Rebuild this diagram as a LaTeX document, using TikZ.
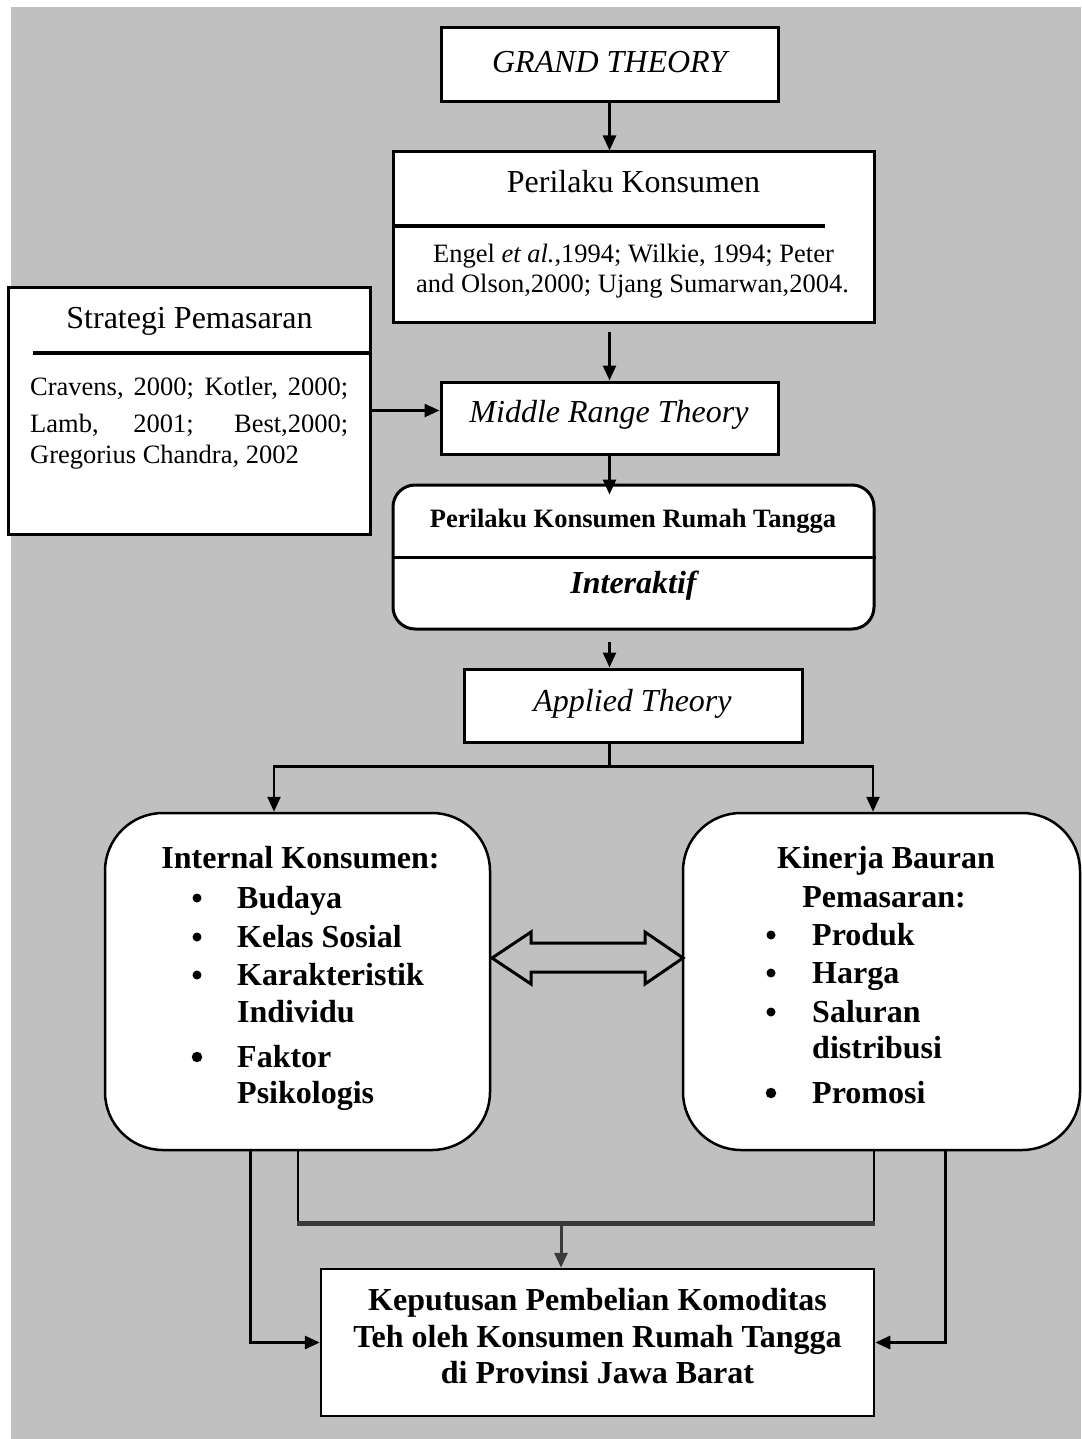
\documentclass[tikz,border=0pt]{standalone}
\usepackage{fontspec}
\setmainfont{Liberation Serif}
\usetikzlibrary{arrows.meta,calc}
\definecolor{bggray}{HTML}{C0C0C0}
\definecolor{bardark}{HTML}{3A3A3A}

\begin{document}
\begin{tikzpicture}[x=1pt,y=-1pt,
  box/.style={draw,line width=3pt,fill=white,inner sep=0pt},
  rbox/.style={box,line width=2.5pt,rounded corners=58pt},
  txt/.style={inner sep=0pt,anchor=base},
  ltxt/.style={inner sep=0pt,anchor=base west},
  big/.style={font=\fontsize{32}{38}\selectfont},
  small/.style={font=\fontsize{26.5}{30}\selectfont},
  bul/.style={inner sep=0pt,anchor=center,circle,fill=black,minimum size=#1},
  bul/.default=9pt,
  conn/.style={line width=2.5pt},
  arr/.style={conn,-{Triangle[length=15pt,width=13pt]}},
  divider/.style={line width=4pt},
]
\useasboundingbox (0,0) rectangle (1081,1439);
\fill[bggray] (11,7) rectangle (1081,1439);

% ---- boxes ----
\node[box,minimum width=337pt,minimum height=74pt] (grand) at (609.5,65) {};
\node[box,minimum width=481pt,minimum height=170pt] (pk) at (633.5,237) {};
\node[box,minimum width=362pt,minimum height=247pt] (sp) at (189,410.5) {};
\node[box,minimum width=337pt,minimum height=72pt] (mid) at (609.5,418) {};
\node[box,rounded corners=22pt,minimum width=481pt,minimum height=144pt] (pkrt) at (633.5,557) {};
\node[box,minimum width=338pt,minimum height=73pt] (app) at (633,705.5) {};
\node[rbox,minimum width=385pt,minimum height=337pt] (ik) at (297.5,981.5) {};
\node[rbox,minimum width=397pt,minimum height=337pt] (kb) at (881.5,981.5) {};
\node[box,line width=2.5pt,minimum width=553pt,minimum height=147pt] (kp) at (597.5,1342.5) {};

% ---- dividers inside boxes ----
\draw[divider] (pk.west |- 0,226) -- (825,226);
\draw[divider] (33,353) -- (sp.east |- 0,353);
\draw[line width=3pt] (pkrt.west) -- (pkrt.east);

% ---- texts ----
\node[txt,font=\fontsize{32}{38}\selectfont\itshape] (tgrand) at (609.5,73) {GRAND THEORY};
\node[txt,big] (tpk) at (633.5,193) {Perilaku Konsumen};
\node[txt,small] (tpk1) at (633.5,262) {Engel \textit{et al.},1994; Wilkie, 1994; Peter};
\node[txt,small] (tpk2) at (632.5,292) {and Olson,2000; Ujang Sumarwan,2004.};
\node[txt,big] (tsp) at (189.5,328) {Strategi Pemasaran};
\node[ltxt,small] (tsp1) at (30,395) {\makebox[318pt][s]{Cravens, 2000; Kotler, 2000;}};
\node[ltxt,small] (tsp2) at (30,432) {\makebox[318pt][s]{Lamb, 2001; Best,2000;}};
\node[ltxt,small] (tsp3) at (30,463) {Gregorius Chandra, 2002};
\node[txt,font=\fontsize{32}{38}\selectfont\itshape] (tmid) at (609,422) {Middle Range Theory};
\node[txt,font=\fontsize{26.5}{30}\selectfont\bfseries] (tpkrt) at (633,527) {Perilaku Konsumen Rumah Tangga};
\node[txt,font=\fontsize{32}{38}\selectfont\bfseries\itshape] (tint) at (633.5,593) {Interaktif};
\node[txt,font=\fontsize{32}{38}\selectfont\itshape] (tapp) at (632.5,711) {Applied Theory};

% list bullets (round dots)
\node[bul] (b1) at (197,898) {};
\node[bul] (b2) at (197,937) {};
\node[bul] (b3) at (197,975) {};
\node[bul=10.5pt] (b4) at (197,1057) {};
\node[bul] (c1) at (771,935) {};
\node[bul] (c2) at (771,973) {};
\node[bul] (c3) at (771,1012) {};
\node[bul=10.5pt] (c4) at (771,1093) {};

\begin{scope}[every node/.append style={font=\fontsize{32}{38}\selectfont\bfseries}]
  \node[txt] (tik) at (300.5,868) {Internal Konsumen:};
  \node[ltxt] (i1) at (237,908) {Budaya};
  \node[ltxt] (i2) at (237,947) {Kelas Sosial};
  \node[ltxt] (i3) at (237,985) {Karakteristik};
  \node[ltxt] (i3b) at (237,1022) {Individu};
  \node[ltxt] (i4) at (237,1067) {Faktor};
  \node[ltxt] (i4b) at (237,1103) {Psikologis};

  \node[txt] (tkb1) at (886,868) {Kinerja Bauran};
  \node[txt] (tkb2) at (884,907) {Pemasaran:};
  \node[ltxt] (j1) at (812,945) {Produk};
  \node[ltxt] (j2) at (812,983) {Harga};
  \node[ltxt] (j3) at (812,1022) {Saluran};
  \node[ltxt] (j3b) at (812,1058) {distribusi};
  \node[ltxt] (j4) at (812,1103) {Promosi};

  \node[txt] (tkp1) at (597.5,1310) {Keputusan Pembelian Komoditas};
  \node[txt] (tkp2) at (597.5,1347) {Teh oleh Konsumen Rumah Tangga};
  \node[txt] (tkp3) at (597.5,1383) {di Provinsi Jawa Barat};
\end{scope}

% ---- connectors ----
\draw[arr] (grand.south) -- (grand.south |- pk.north);
\draw[arr] ($(mid.north |- pk.south)+(0,8)$) -- (mid.north);
\draw[arr] (sp.east) -- (sp.east -| mid.west);
\draw[arr] (mid.south) -- ($(mid.south |- pkrt.north)+(0,11)$);
\draw[arr] ($(mid.south |- pkrt.south)+(0,11)$) -- (mid.south |- app.north);

\coordinate (split) at ($(mid.south |- app.south)+(0,23)$);
\draw[conn] (mid.south |- app.south) -- (split);
\draw[arr] (split) -| ($(ik.north)+(-23.5,0)$);
\draw[arr] (split) -| ($(kb.north)+(-8.5,0)$);

% two-headed block arrow between the rounded boxes
\draw[line width=3pt,line join=miter]
  (492,958) -- (531,932) -- (531,943) -- (645,943) -- (645,932) -- (683,958)
  -- (645,984) -- (645,972) -- (531,972) -- (531,984) -- cycle;

% joint output of both rounded boxes
\coordinate (barL) at ($(ik.south)+(0.5,72)$);
\coordinate (barR) at ($(kb.south)+(-7.5,72)$);
\coordinate (barM) at ($(kp.north)+(-36.5,-47)$);
\draw[conn] ($(ik.south)+(0.5,0)$) -- (barL);
\draw[conn] ($(kb.south)+(-7.5,0)$) -- (barR);
\draw[line width=5pt,bardark] ($(barL)+(-1.25,0)$) -- ($(barR)+(1.25,0)$);
\draw[arr,bardark,line width=3pt] (barM) -- (barM |- kp.north);

\draw[arr,line width=3pt] ($(ik.south)+(-47.5,0)$) |- (kp.west);
\draw[arr,line width=3pt] ($(kb.south)+(63.5,0)$) |- (kp.east);
\end{tikzpicture}
\end{document}
